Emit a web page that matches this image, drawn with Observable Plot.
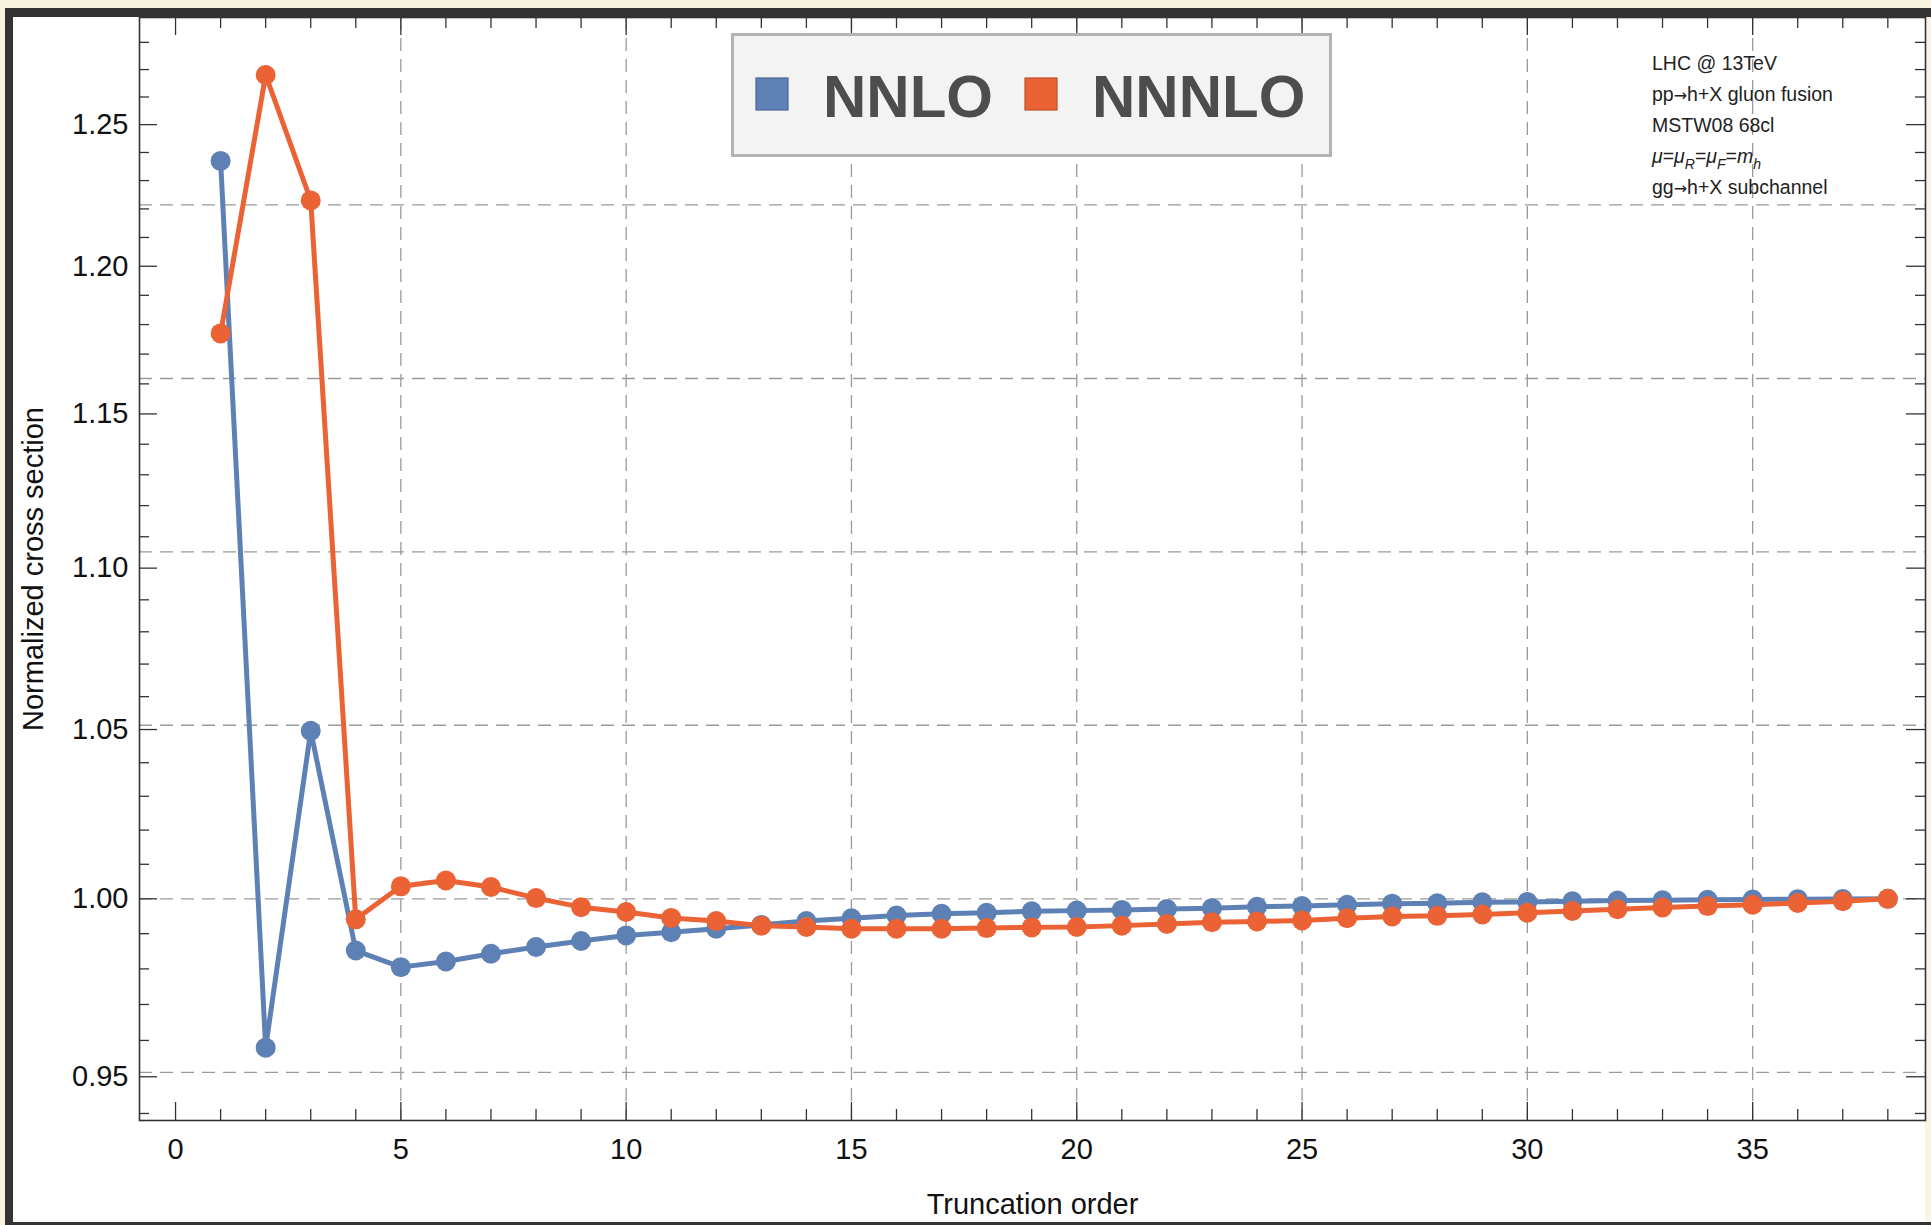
<!DOCTYPE html>
<html><head><meta charset="utf-8">
<script src="https://cdn.jsdelivr.net/npm/d3@7"></script>
<script src="https://cdn.jsdelivr.net/npm/@observablehq/plot@0.6"></script>
<style>
html,body{margin:0;padding:0;}
body{width:1931px;height:1225px;position:relative;overflow:hidden;background:#f7f2de;font-family:"Liberation Sans",Arial,sans-serif;}
#dark{position:absolute;left:5px;top:8px;right:0;bottom:0;background:#333;}
#white{position:absolute;left:13px;top:17px;width:1912px;height:1205px;background:#fff;}
#strip{position:absolute;left:1925px;top:17px;width:6px;height:1205px;background:#f8f5e8;}
#chart{position:absolute;left:0;top:0;}
#overlay{position:absolute;left:0;top:0;pointer-events:none;}
</style></head><body>
<div id="dark"></div><div id="white"></div><div id="strip"></div>
<div id="chart"></div>
<svg id="overlay" width="1931" height="1225"></svg>
<script>
// ---- data ----
const orders = [1,2,3,4,5,6,7,8,9,10,11,12,13,14,15,16,17,18,19,20,21,22,23,24,25,26,27,28,29,30,31,32,33,34,35,36,37,38];
const nnlo = [1.237,0.958,1.0496,0.9852,0.9805,0.9821,0.9843,0.9862,0.9879,0.9895,0.9904,0.9914,0.9925,0.9936,0.9944,0.9952,0.9957,0.9960,0.9964,0.9966,0.9968,0.9971,0.9973,0.9977,0.9979,0.9983,0.9986,0.9987,0.9990,0.9991,0.9993,0.9995,0.9996,0.9997,0.9998,0.9999,0.99995,1.0];
const nnnlo = [1.177,1.268,1.223,0.9941,1.0036,1.0053,1.0034,1.0002,0.9976,0.9962,0.9945,0.9936,0.9923,0.9919,0.9914,0.9914,0.9914,0.9916,0.9918,0.9919,0.9923,0.9928,0.9933,0.9935,0.9938,0.9944,0.9949,0.9951,0.9955,0.9960,0.9965,0.9970,0.9975,0.9979,0.9983,0.9988,0.9993,1.0];
const seriesNames = ["NNLO","NNNLO"];
const seriesColors = ["#5e81b5","#eb6235"];
const xMajorTicks = [0,5,10,15,20,25,30,35];
const xMinorTicks = [1,2,3,4,6,7,8,9,11,12,13,14,16,17,18,19,21,22,23,24,26,27,28,29,31,32,33,34,36,37,38];
const xGridLines = [5,10,15,20,25,30,35];
const yMajorTicks = [0.95,1.00,1.05,1.10,1.15,1.20,1.25];
const yMinorTicks = [0.94,0.96,0.97,0.98,0.99,1.01,1.02,1.03,1.04,1.06,1.07,1.08,1.09,1.11,1.12,1.13,1.14,1.16,1.17,1.18,1.19,1.21,1.22,1.23,1.24,1.26,1.27,1.28];
const yGridLines = [0.9512,1.0,1.0513,1.1052,1.1618,1.2214];
const xLabel = "Truncation order";
const yLabel = "Normalized cross section";
const notes = ["LHC @ 13TeV","pp→h+X gluon fusion","MSTW08 68cl","μ=μR=μF=mh","gg→h+X subchannel"];

// ---- build table ----
const seriesValues = [nnlo, nnnlo];
const rows = seriesNames.flatMap((s, k) => orders.map((o, i) => ({order: o, value: seriesValues[k][i], series: s})));

const W = 1931, H = 1225, mL = 139, mR = 6, mT = 17, mB = 105;
const iW = W - mL - mR, iH = H - mT - mB;
const font = "Liberation Sans, Arial, Helvetica, sans-serif";
const axisColor = "#333";
const gridStyle = {stroke: "#9a9a9a", strokeOpacity: 1, strokeWidth: 1.3, strokeDasharray: "13,8"};

const seriesMarks = seriesNames.flatMap((s) => {
  const d = rows.filter(r => r.series === s);
  return [
    Plot.line(d, {x: "order", y: "value", stroke: "series", strokeWidth: 5, strokeLinejoin: "round"}),
    Plot.dot(d, {x: "order", y: "value", fill: "series", r: 10, stroke: "none"})
  ];
});

const chart = Plot.plot({
  width: W, height: H,
  marginLeft: mL, marginRight: mR, marginTop: mT, marginBottom: mB,
  style: {background: "transparent", fontFamily: font, fontSize: "29px", overflow: "visible"},
  x: {domain: [-0.8, 38.836]},
  y: {type: "log", domain: [0.9381, 1.2892]},
  color: {domain: seriesNames, range: seriesColors},
  marks: [
    Plot.gridX(xGridLines, gridStyle),
    Plot.gridY(yGridLines, gridStyle),
    ...seriesMarks,
    Plot.frame({stroke: axisColor, strokeWidth: 1.6}),
    Plot.ruleX(xMajorTicks, {stroke: axisColor, strokeWidth: 1.3, insetTop: iH - 18}),
    Plot.ruleX(xMinorTicks, {stroke: axisColor, strokeWidth: 1.3, insetTop: iH - 11}),
    Plot.ruleX(xMajorTicks, {stroke: axisColor, strokeWidth: 1.3, insetBottom: iH - 18}),
    Plot.ruleX(xMinorTicks, {stroke: axisColor, strokeWidth: 1.3, insetBottom: iH - 11}),
    Plot.ruleY(yMajorTicks, {stroke: axisColor, strokeWidth: 1.3, insetRight: iW - 18}),
    Plot.ruleY(yMinorTicks, {stroke: axisColor, strokeWidth: 1.3, insetRight: iW - 10}),
    Plot.ruleY(yMajorTicks, {stroke: axisColor, strokeWidth: 1.3, insetLeft: iW - 19}),
    Plot.ruleY(yMinorTicks, {stroke: axisColor, strokeWidth: 1.3, insetLeft: iW - 10}),
    Plot.axisX({ticks: xMajorTicks, tickSize: 0, tickPadding: 18, label: null, fontSize: 29, fill: "#111", tickFormat: d => String(d)}),
    Plot.axisY({ticks: yMajorTicks, tickSize: 0, tickPadding: 11, label: null, fontSize: 29, fill: "#111", tickFormat: d => d.toFixed(2)}),
    Plot.text([xLabel], {text: d => d, frameAnchor: "bottom", textAnchor: "middle", dy: 93, fontSize: 29, fill: "#111"}),
    Plot.text([yLabel], {text: d => d, frameAnchor: "left", textAnchor: "middle", rotate: -90, dx: -106, fontSize: 29, fill: "#111"})
  ]
});
document.getElementById("chart").appendChild(chart);

// ---- legend and notes overlay ----
const ov = d3.select("#overlay");
const lg = ov.append("g");
lg.append("rect").attr("x", 732.5).attr("y", 34.5).attr("width", 598).attr("height", 121)
  .attr("fill", "#f3f3f3").attr("stroke", "#b3b3b3").attr("stroke-width", 3);
const legendX = [756, 1025];
seriesNames.forEach((s, i) => {
  lg.append("rect").attr("x", legendX[i]).attr("y", 78).attr("width", 32).attr("height", 32)
    .attr("fill", seriesColors[i]).attr("stroke", d3.color(seriesColors[i]).darker(0.6)).attr("stroke-width", 1.2);
  lg.append("text").attr("x", legendX[i] + 67).attr("y", 117).text(s)
    .attr("font-family", font).attr("font-weight", "bold").attr("font-size", 60).attr("fill", "#4d4d4d");
});

const ng = ov.append("g").attr("font-family", font).attr("font-size", 19.5).attr("fill", "#222");
notes.forEach((t, i) => {
  const tx = ng.append("text").attr("x", 1652).attr("y", 70 + 31 * i);
  if (t.startsWith("μ=")) {
    const parts = [["μ", true, 0], ["=", false, 0], ["μ", true, 0], ["R", true, 1], ["=", false, -1], ["μ", true, 0], ["F", true, 1], ["=", false, -1], ["m", true, 0], ["h", true, 1]];
    parts.forEach(([s, it, sub]) => {
      const sp = tx.append("tspan").text(s);
      if (it) sp.attr("font-style", "italic");
      if (sub === 1) sp.attr("font-size", 14).attr("dy", 6);
      if (sub === -1) sp.attr("dy", -6);
    });
  } else {
    // split arrows so they use a font with a full-size arrow glyph
    t.split(/(→)/).forEach(seg => {
      if (!seg) return;
      const sp = tx.append("tspan").text(seg);
      if (seg === "→") sp.attr("font-family", "DejaVu Sans").attr("font-size", 16);
    });
  }
});
</script>
</body></html>
